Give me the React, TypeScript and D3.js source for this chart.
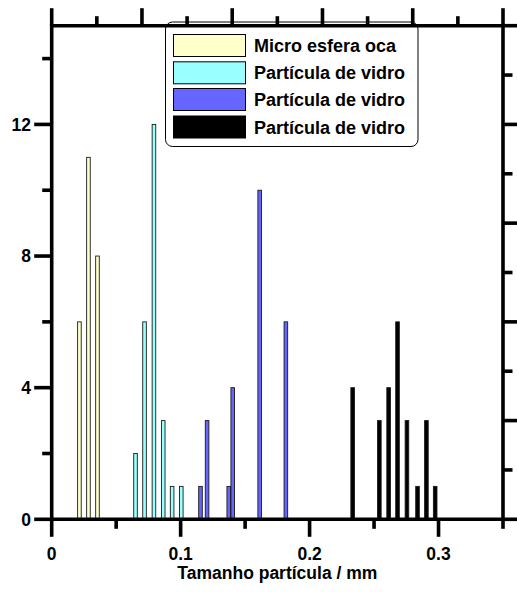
import React from "react";
import * as d3 from "d3";

// ---- data ----
const seriesNames = ["Micro esfera oca", "Partícula de vidro", "Partícula de vidro", "Partícula de vidro"];
const microX = [0.0215, 0.0285, 0.0355];
const microY = [6, 11, 8];
const vidro1X = [0.065, 0.072, 0.0793, 0.0865, 0.0934, 0.1005];
const vidro1Y = [2, 6, 12, 3, 1, 1];
const vidro2X = [0.1154, 0.1205, 0.1373, 0.1404, 0.1613, 0.1816];
const vidro2Y = [1, 3, 1, 4, 10, 6];
const vidro3X = [0.2334, 0.2541, 0.2613, 0.2682, 0.2755, 0.2837, 0.2906, 0.2974];
const vidro3Y = [4, 3, 4, 6, 3, 1, 3, 1];

const xDomain = [0, 0.35];
const yDomain = [0, 15];
const xMajorTicks = [0, 0.1, 0.2, 0.3];
const xMinorTicks = [0.05, 0.15, 0.25, 0.35];
const xTickLabels = ["0", "0.1", "0.2", "0.3"];
const yMajorTicks = [0, 4, 8, 12];
const yMinorTicks = [2, 6, 10, 14];
const yTickLabels = ["0", "4", "8", "12"];
const topMajorTicks = [0, 0.07, 0.14, 0.21, 0.28, 0.35];
const topMinorTicks = [0.035, 0.105, 0.175, 0.245, 0.315];
const rightMajorTicks = [0, 3, 6, 9, 12, 15];
const rightMinorTicks = [1.5, 4.5, 7.5, 10.5, 13.5];
const xAxisTitle = "Tamanho partícula / mm";

// ---- styles ----
const colors = ["#ffffcc", "#99ffff", "#6666ff", "#000000"];
const W = 517, H = 592;
const M = { left: 51.7, right: 503, top: 25.7, bottom: 519.3 };
const FONT = "'Liberation Sans', Arial, sans-serif";
const AX = 3.6;
const MAJ = 17.5, MIN = 9.5;
const BAR_W = 3.6;

export default function App() {
  const x = d3.scaleLinear().domain(xDomain).range([M.left, M.right]);
  const y = d3.scaleLinear().domain(yDomain).range([M.bottom, M.top]);

  const series = [
    { xs: microX, ys: microY },
    { xs: vidro1X, ys: vidro1Y },
    { xs: vidro2X, ys: vidro2Y },
    { xs: vidro3X, ys: vidro3Y },
  ];

  const legendRows = [45.5, 72.8, 99.5, 127];

  return (
    <svg width={W} height={H} style={{ position: "absolute", left: 0, top: 0, background: "#fff" }}
      fontFamily={FONT} fontWeight="bold">
      <rect x={0} y={0} width={W} height={H} fill="#fff" />
      {/* bars */}
      {series.map((s, si) =>
        s.xs.map((xv, i) => (
          <rect key={`b${si}-${i}`} x={x(xv) - BAR_W / 2} y={y(s.ys[i])}
            width={BAR_W} height={y(0) - y(s.ys[i])}
            fill={colors[si]} stroke="#1a1a1a" strokeWidth={0.9} />
        ))
      )}
      {/* legend */}
      <rect x={165.5} y={22} width={252.5} height={124.5} rx={7} ry={7} fill="#fff" stroke="#000" strokeWidth={1} />
      {seriesNames.map((n, i) => (
        <g key={`lg${i}`}>
          <rect x={173.5} y={legendRows[i] - 11} width={72} height={22} fill={colors[i]} stroke="#000" strokeWidth={1} />
          <text x={254} y={legendRows[i] + 6.5} fontSize={18}>{n}</text>
        </g>
      ))}
      {/* axes frame */}
      <g stroke="#000" strokeWidth={AX} strokeLinecap="butt">
        <line x1={M.left} x2={M.right} y1={M.bottom} y2={M.bottom} />
        <line x1={M.left} x2={M.right} y1={M.top} y2={M.top} />
        <line x1={M.left} x2={M.left} y1={M.top - AX / 2} y2={M.bottom} />
        <line x1={M.right} x2={M.right} y1={M.top} y2={M.bottom} />
        {xMajorTicks.map((t) => (
          <line key={`xM${t}`} x1={x(t)} x2={x(t)} y1={M.bottom} y2={M.bottom + MAJ} />
        ))}
        {xMinorTicks.map((t) => (
          <line key={`xm${t}`} x1={x(t)} x2={x(t)} y1={M.bottom} y2={M.bottom + MIN} />
        ))}
        {yMajorTicks.map((t) => (
          <line key={`yM${t}`} x1={M.left - MAJ} x2={M.left} y1={y(t)} y2={y(t)} />
        ))}
        {yMinorTicks.map((t) => (
          <line key={`ym${t}`} x1={M.left - MIN} x2={M.left} y1={y(t)} y2={y(t)} />
        ))}
        {topMajorTicks.map((t) => (
          <line key={`tM${t}`} x1={x(t)} x2={x(t)} y1={M.top - MAJ} y2={M.top} />
        ))}
        {topMinorTicks.map((t) => (
          <line key={`tm${t}`} x1={x(t)} x2={x(t)} y1={M.top - MIN} y2={M.top} />
        ))}
        {rightMajorTicks.map((t) => (
          <line key={`rM${t}`} x1={M.right} x2={M.right + MAJ} y1={y(t)} y2={y(t)} />
        ))}
        {rightMinorTicks.map((t) => (
          <line key={`rm${t}`} x1={M.right} x2={M.right + MIN} y1={y(t)} y2={y(t)} />
        ))}
      </g>
      {/* tick labels */}
      {xMajorTicks.map((t, i) => (
        <text key={`xl${t}`} x={x(t)} y={560} fontSize={17.5} textAnchor="middle">{xTickLabels[i]}</text>
      ))}
      {yMajorTicks.map((t, i) => (
        <text key={`yl${t}`} x={31} y={y(t) + 6.3} fontSize={17.5} textAnchor="end">{yTickLabels[i]}</text>
      ))}
      <text x={(M.left + M.right) / 2} y={578.5} fontSize={17.5} textAnchor="middle">{xAxisTitle}</text>
    </svg>
  );
}
